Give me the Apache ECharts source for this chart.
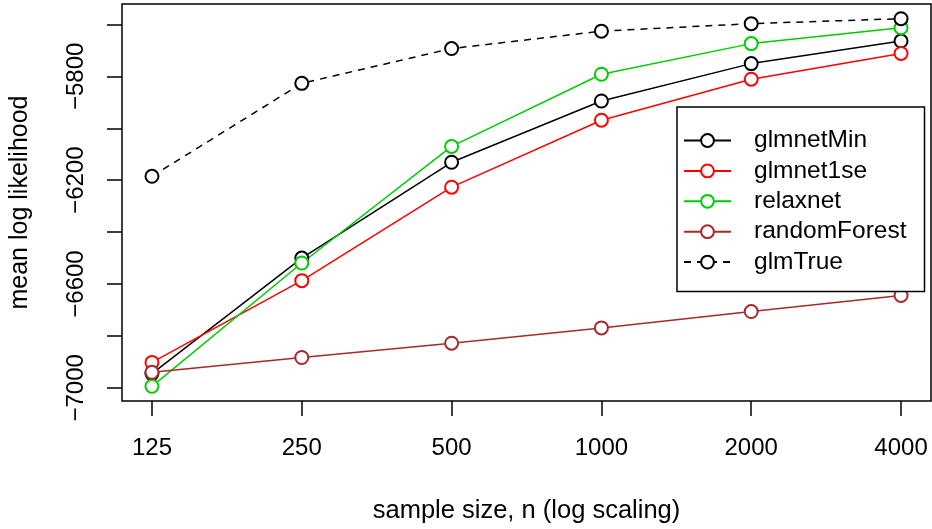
<!DOCTYPE html>
<html>
<head>
<meta charset="utf-8">
<script src="https://cdn.jsdelivr.net/npm/echarts@6/dist/echarts.min.js"></script>
<style>
html,body{margin:0;padding:0;background:#fff;}
#chart{width:932px;height:529px;}
</style>
</head>
<body>
<div id="chart"></div>
<script>
// ---- data ----
const sampleSizes = [125, 250, 500, 1000, 2000, 4000];
const glmnetMin    = [-6945, -6500, -6131, -5895, -5751, -5664];
const glmnet1se    = [-6902, -6587, -6227, -5969, -5811, -5712];
const relaxnet     = [-6994, -6519, -6070, -5792, -5674, -5613];
const randomForest = [-6940, -6883, -6828, -6769, -6706, -6644];
const glmTrue      = [-6185, -5827, -5693, -5626, -5597, -5578];
const yTickValues  = [-7000, -6800, -6600, -6400, -6200, -6000, -5800, -5600];
const yLabelValues = [-7000, -6600, -6200, -5800];

const FONT = 'Liberation Sans';
const FS = 24;
const toPts = vals => vals.map((v, i) => [Math.log2(sampleSizes[i]), v]);
const xTicks = sampleSizes.map(n => Math.log2(n));

function mk(name, vals, color, dashed) {
  return {
    name: name,
    type: 'line',
    data: toPts(vals),
    symbol: 'emptyCircle',
    symbolSize: 13,
    showSymbol: true,
    animation: false,
    lineStyle: { color: color, width: 1.5, type: dashed ? [7, 6] : 'solid' },
    itemStyle: { color: color, borderWidth: 1.6 },
    emphasis: { disabled: true }
  };
}

const chart = echarts.init(document.getElementById('chart'), null, { renderer: 'canvas' });
chart.setOption({
  backgroundColor: '#fff',
  animation: false,
  grid: {
    left: 118, right: 1, top: 4, bottom: 126,
    show: true, borderColor: '#000', borderWidth: 1.5, backgroundColor: 'transparent'
  },
  xAxis: {
    type: 'value',
    min: Math.log2(sampleSizes[0]) - 0.2,
    max: Math.log2(sampleSizes[sampleSizes.length - 1]) + 0.2,
    splitLine: { show: false },
    axisLine: { show: false },
    axisTick: { show: true, length: 15, inside: false, customValues: xTicks,
                lineStyle: { color: '#000', width: 1.5 } },
    axisLabel: { customValues: xTicks, margin: 35, color: '#000', fontFamily: FONT, fontSize: FS,
                 formatter: v => String(Math.round(Math.pow(2, v))) },
    name: 'sample size, n (log scaling)',
    nameLocation: 'middle',
    nameGap: 97,
    nameTextStyle: { color: '#000', fontFamily: FONT, fontSize: 25.5 }
  },
  yAxis: {
    type: 'value',
    min: -7050.6,
    max: -5521.4,
    splitLine: { show: false },
    axisLine: { show: false },
    axisTick: { show: true, length: 15, inside: false, customValues: yTickValues,
                lineStyle: { color: '#000', width: 1.5 } },
    axisLabel: { customValues: yLabelValues, rotate: 90, margin: 34, color: '#000',
                 fontFamily: FONT, fontSize: FS,
                 formatter: v => (v < 0 ? '\u2212' : '') + Math.abs(Math.round(v)) },
    name: 'mean log likelihood',
    nameLocation: 'middle',
    nameGap: 89,
    nameTextStyle: { color: '#000', fontFamily: FONT, fontSize: 25 }
  },
  legend: {
    orient: 'vertical',
    left: 677,
    top: 107,
    padding: [21, 18, 17, 6],
    itemWidth: 47,
    itemHeight: 16,
    itemGap: 5.4,
    borderColor: '#000',
    borderWidth: 1.5,
    backgroundColor: '#fff',
    selectedMode: false,
    textStyle: { color: '#000', fontFamily: FONT, fontSize: 24.5, lineHeight: 24, padding: [0, 0, 0, 18] },
    data: ['glmnetMin', 'glmnet1se', 'relaxnet', 'randomForest', 'glmTrue']
  },
  series: [
    mk('glmnetMin', glmnetMin, '#000000', false),
    mk('glmnet1se', glmnet1se, '#ff0000', false),
    mk('relaxnet', relaxnet, '#00cd00', false),
    mk('randomForest', randomForest, '#a52a2a', false),
    mk('glmTrue', glmTrue, '#000000', true)
  ]
});
</script>
</body>
</html>
